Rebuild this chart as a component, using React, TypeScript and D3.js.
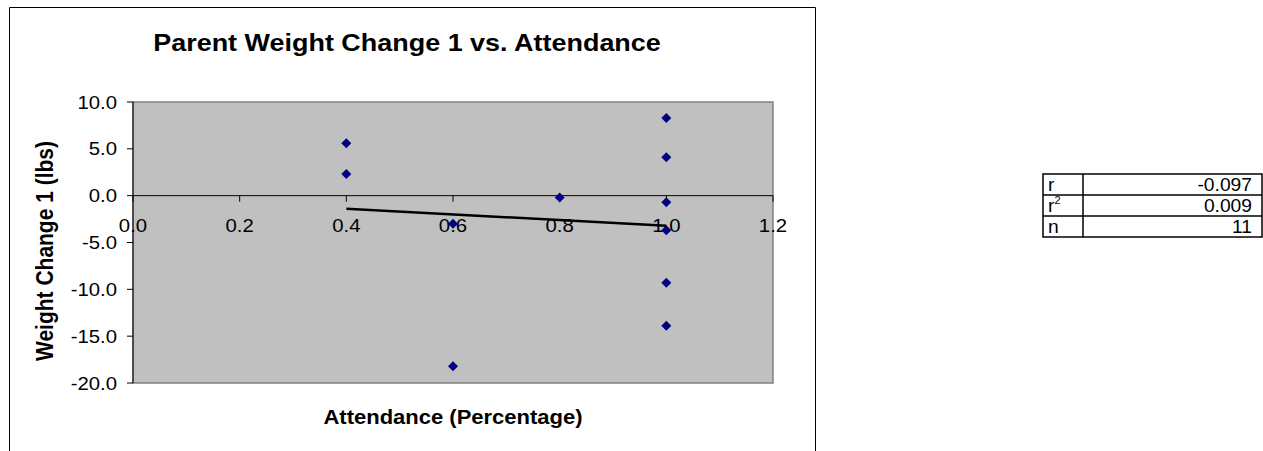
import React from "react";
import * as d3 from "d3";

// values
const attendance = [0.4, 0.4, 0.6, 0.6, 0.8, 1.0, 1.0, 1.0, 1.0, 1.0, 1.0];
const weightChange = [5.6, 2.3, -3.0, -18.2, -0.2, 8.3, 4.1, -0.7, -3.7, -9.3, -13.9];
const xTicks = [0, 0.2, 0.4, 0.6, 0.8, 1.0, 1.2];
const yTicks = [10, 5, 0, -5, -10, -15, -20];
const statLabels = ["r", "r", "n"];
const statValues = ["-0.097", "0.009", "11"];

const FONT = "'Liberation Sans', Arial, sans-serif";
const SX = 1.1; // the source picture is a bit wider than tall

const W = 1263;
const H = 451;
const plot = { left: 133, right: 773, top: 102, bottom: 383 };

// stretched text helper
const T = ({ x, y, anchor = "start", size, bold = false, rotate = 0, children }: any) => (
  <text
    transform={`translate(${x},${y}) scale(${SX},1) rotate(${rotate})`}
    textAnchor={anchor}
    fontSize={size}
    fontWeight={bold ? "bold" : "normal"}
    fontFamily={FONT}
    fill="#000"
  >
    {children}
  </text>
);

export default function App() {
  const x = d3.scaleLinear().domain([0, 1.2]).range([plot.left, plot.right]);
  const y = d3.scaleLinear().domain([-20, 10]).range([plot.bottom, plot.top]);
  // Excel style: plain hyphen for negatives
  const fmt = d3.formatLocale({ decimal: ".", thousands: ",", grouping: [3], currency: ["", ""], minus: "-" }).format(".1f");

  // least squares trend line
  const mx = d3.mean(attendance)!;
  const my = d3.mean(weightChange)!;
  const sxy = d3.sum(attendance, (v, i) => (v - mx) * (weightChange[i] - my));
  const sxx = d3.sum(attendance, (v) => (v - mx) ** 2);
  const slope = sxy / sxx;
  const icpt = my - slope * mx;
  const [x0, x1] = d3.extent(attendance) as [number, number];
  const trend = d3.line<number>().x((d) => x(d)).y((d) => y(icpt + slope * d))([x0, x1]);

  // square turned 45deg -> even diamond
  const diamond = d3.symbol(d3.symbolSquare, 50)();

  // stats table
  const tbl = { left: 1043, mid: 1083, right: 1262, top: 174, rowH: 21 };

  return (
    <svg width={W} height={H} style={{ position: "absolute", left: 0, top: 0 }}>
      <rect x={0} y={0} width={W} height={H} fill="#fff" />
      {/* chart area border */}
      <path d={`M9.5,${H} V7.5 H815.5 V${H}`} fill="none" stroke="#000" strokeWidth={1} />

      <T x={407} y={51} anchor="middle" size={24.5} bold>
        Parent Weight Change 1 vs. Attendance
      </T>

      {/* plot area */}
      <rect
        x={plot.left}
        y={plot.top}
        width={plot.right - plot.left}
        height={plot.bottom - plot.top}
        fill="#c0c0c0"
        stroke="#808080"
        strokeWidth={1.5}
      />
      <line x1={plot.left} x2={plot.left} y1={plot.top} y2={plot.bottom} stroke="#000" />
      <line x1={plot.left} x2={plot.right} y1={y(0)} y2={y(0)} stroke="#000" />

      {yTicks.map((t) => (
        <g key={"y" + t}>
          <line x1={plot.left - 6} x2={plot.left} y1={y(t)} y2={y(t)} stroke="#000" />
          <T x={117} y={y(t) + 6.5} anchor="end" size={18.5}>
            {fmt(t)}
          </T>
        </g>
      ))}
      {xTicks.map((t) => (
        <g key={"x" + t}>
          <line x1={x(t)} x2={x(t)} y1={y(0)} y2={y(0) + 6} stroke="#000" />
          <T x={x(t)} y={232} anchor="middle" size={18.5}>
            {fmt(t)}
          </T>
        </g>
      ))}

      {attendance.map((a, i) => (
        <path
          key={i}
          d={diamond!}
          transform={`translate(${x(a)},${y(weightChange[i])}) rotate(45)`}
          fill="#000080"
        />
      ))}
      <path d={trend!} stroke="#000" strokeWidth={2.5} fill="none" />

      <T x={53} y={251} anchor="middle" size={21} bold rotate={-90}>
        Weight Change 1 (lbs)
      </T>
      <T x={(plot.left + plot.right) / 2} y={424} anchor="middle" size={20} bold>
        Attendance (Percentage)
      </T>

      {/* r / r² / n table */}
      <g stroke="#000" strokeWidth={1.5} fill="none">
        <rect x={tbl.left} y={tbl.top} width={tbl.right - tbl.left} height={tbl.rowH * statLabels.length} />
        <line x1={tbl.mid} x2={tbl.mid} y1={tbl.top} y2={tbl.top + tbl.rowH * statLabels.length} />
        {statLabels.slice(1).map((_, i) => (
          <line key={i} x1={tbl.left} x2={tbl.right} y1={tbl.top + tbl.rowH * (i + 1)} y2={tbl.top + tbl.rowH * (i + 1)} />
        ))}
      </g>
      {statLabels.map((s, i) => (
        <g key={"s" + i}>
          <T x={tbl.left + 5} y={tbl.top + tbl.rowH * (i + 1) - 4} size={17.5}>
            {s}
            {i === 1 ? (
              <tspan fontSize={10} dy={-8.5}>
                2
              </tspan>
            ) : null}
          </T>
          <T x={1252} y={tbl.top + tbl.rowH * (i + 1) - 4} anchor="end" size={17.5}>
            {statValues[i]}
          </T>
        </g>
      ))}
    </svg>
  );
}
